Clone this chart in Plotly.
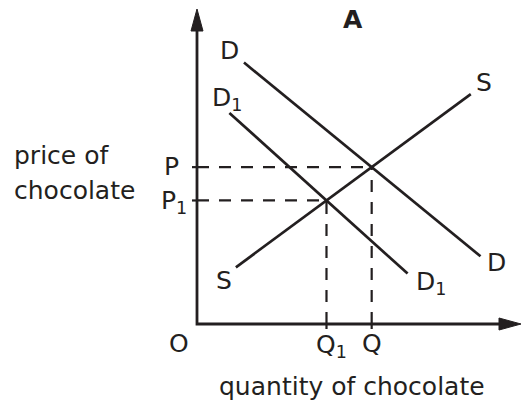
import plotly.graph_objects as go

# ---- data (arbitrary units) ----
D_x = [1.45, 8.75]
D_y = [8.30, 2.15]
D1_x = [1.00, 6.50]
D1_y = [6.70, 1.60]
S_x = [1.20, 8.45]
S_y = [1.80, 7.30]
price_labels = ["P", "P<sub>1</sub>"]
quantity_labels = ["Q", "Q<sub>1</sub>"]
AX_MAX = 10.0

INK = "#231f20"
FONT = "DejaVu Sans"
W, H = 523, 403
# pixel mapping: origin and axis tips
OX, OY = 197, 324
SX = (521 - OX) / AX_MAX
SY = (OY - 9) / AX_MAX


def X(px):
    return (px - OX) / SX


def Y(py):
    return (OY - py) / SY


def line_coef(xs, ys):
    m = (ys[1] - ys[0]) / (xs[1] - xs[0])
    return m, ys[0] - m * xs[0]


def intersect(a, b):
    m1, c1 = line_coef(*a)
    m2, c2 = line_coef(*b)
    x = (c2 - c1) / (m1 - m2)
    return x, m1 * x + c1


Q, P = intersect((S_x, S_y), (D_x, D_y))
Q1, P1 = intersect((S_x, S_y), (D1_x, D1_y))

fig = go.Figure()
solid = dict(color=INK, width=2.7)
for xs, ys in [(D_x, D_y), (D1_x, D1_y), (S_x, S_y)]:
    fig.add_trace(go.Scatter(x=xs, y=ys, mode="lines", line=solid, hoverinfo="skip"))

dash = dict(color=INK, width=2.2, dash="12px,10px")
for q, p in [(Q, P), (Q1, P1)]:
    fig.add_trace(go.Scatter(x=[0, q], y=[p, p], mode="lines", line=dash, hoverinfo="skip"))
    fig.add_trace(go.Scatter(x=[q, q], y=[0, p], mode="lines", line=dash, hoverinfo="skip"))

shapes = []
head_len_x = 22 / SX
head_len_y = 22 / SY
half_w_x = 6 / SX
half_w_y = 6 / SY
shapes.append(dict(type="path", xref="x", yref="y",
                   path=f"M 0,{AX_MAX - head_len_y} L 0,0 L {AX_MAX - head_len_x},0",
                   line=dict(color=INK, width=2.8)))
shapes.append(dict(type="path", xref="x", yref="y",
                   path=f"M {-half_w_x},{AX_MAX - head_len_y} L 0,{AX_MAX} L {half_w_x},{AX_MAX - head_len_y} Z",
                   fillcolor=INK, line=dict(color=INK, width=1)))
shapes.append(dict(type="path", xref="x", yref="y",
                   path=f"M {AX_MAX - head_len_x},{-half_w_y} L {AX_MAX},0 L {AX_MAX - head_len_x},{half_w_y} Z",
                   fillcolor=INK, line=dict(color=INK, width=1)))
tick = 5
for p in [P, P1]:
    shapes.append(dict(type="line", xref="x", yref="y", x0=-tick / SX, x1=0, y0=p, y1=p,
                       line=dict(color=INK, width=2.2)))
for q in [Q, Q1]:
    shapes.append(dict(type="line", xref="x", yref="y", x0=q, x1=q, y0=-tick / SY, y1=0,
                       line=dict(color=INK, width=2.2)))

ann = []


def label(text, px, py, xanchor="center", size=25):
    ann.append(dict(text=text, x=X(px), y=Y(py), xref="x", yref="y", showarrow=False,
                    xanchor=xanchor, yanchor="middle",
                    font=dict(family=FONT, size=size, color=INK)))


label("<b>A</b>", 353, 19, size=25)
label("D", 229, 50)
label("D<sub>1</sub>", 210, 99, xanchor="left")
label("S", 484, 82)
label(price_labels[0], 181, 166, xanchor="right")
label(price_labels[1], 189, 202, xanchor="right")
label("S", 224, 280)
label("D<sub>1</sub>", 414, 283, xanchor="left")
label("D", 496, 262)
label("O", 179, 343)
label(quantity_labels[1], 314, 346, xanchor="left")
label(quantity_labels[0], 372, 343)
label("quantity of chocolate", 352, 386)
label("price of", 12, 155, xanchor="left")
label("chocolate", 12, 190, xanchor="left")

fig.update_layout(
    width=W, height=H,
    margin=dict(l=0, r=0, t=0, b=0),
    paper_bgcolor="white", plot_bgcolor="white",
    showlegend=False,
    shapes=shapes, annotations=ann,
    xaxis=dict(range=[X(0), X(W)], visible=False, fixedrange=True),
    yaxis=dict(range=[Y(H), Y(0)], visible=False, fixedrange=True),
)
fig.write_html("out.html", config={"displayModeBar": False},
               post_script="document.body.style.margin='0';document.body.style.overflow='hidden';")
